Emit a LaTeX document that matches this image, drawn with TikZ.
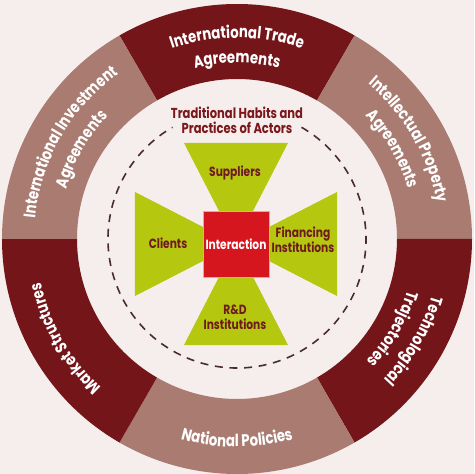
\documentclass[tikz,border=0pt]{standalone}
\usepackage{fontspec}
\usetikzlibrary{decorations.text}
\newfontfamily\diagfont{Poppins}[FakeStretch=0.8]
\newcommand\ringfont{\diagfont\bfseries\fontsize{12.5}{14}\selectfont}
\definecolor{bgpink}{HTML}{F5EEEC}
\definecolor{ringdark}{HTML}{731519}
\definecolor{ringlight}{HTML}{A97B71}
\definecolor{crossgreen}{HTML}{B6C70F}
\definecolor{corered}{HTML}{D5161E}
\definecolor{labeldark}{HTML}{6E1B1F}
\definecolor{dashgray}{HTML}{4A2C30}
\tikzset{
  ringtext/.style={decorate, decoration={text along path, text align=center, text color=white, text={#1}}},
  armlabel/.style={font=\diagfont\bfseries\fontsize{10}{11}\selectfont, text=labeldark, align=center},
  header/.style={font=\diagfont\bfseries\fontsize{10.8}{11.3}\selectfont, text=labeldark!90!red, align=center},
}

\begin{document}
\begin{tikzpicture}[x=0.75pt, y=0.75pt]
\useasboundingbox[fill=bgpink] (-237,-235) rectangle (237,239);

% ring segments
\foreach \a/\b/\c in {60/120/ringdark, 0/60/ringlight, -60/0/ringdark, 240/300/ringlight, 180/240/ringdark, 120/180/ringlight}
  \fill[\c] (\a:235) arc (\a:\b:235) -- (\b:160) arc (\b:\a:160) -- cycle;

% ring labels
\path[ringtext={|\ringfont|International Trade}] (118:201) arc (118:62:201);
\path[ringtext={|\ringfont|Agreements}] (118:176) arc (118:62:176);
\path[ringtext={|\ringfont|Intellectual Property}] (58:203) arc (58:2:203);
\path[ringtext={|\ringfont|Agreements}] (58:178) arc (58:2:178);
\path[ringtext={|\ringfont|Technological}] (-2:203) arc (-2:-58:203);
\path[ringtext={|\ringfont|Trajectories}] (-2:178) arc (-2:-58:178);
\path[ringtext={|\ringfont|National Policies}] (242:208) arc (242:298:208);
\path[ringtext={|\ringfont|Market Structures}] (238:201) arc (238:182:201);
\path[ringtext={|\ringfont|International Investment}] (178:203) arc (178:122:203);
\path[ringtext={|\ringfont|Agreements}] (178:178) arc (178:122:178);

% habits
\path[draw, dashgray, line width=1.2pt, dash pattern=on 6pt off 5pt] (60:129) arc (60:-240:129);
\node[header] (habits) at (0,119) {Traditional Habits and\\Practices of Actors};

% actors
\coordinate (c) at (-1,-5);
\fill[crossgreen] (c) -- ++(-52,101) -- ++(104,0) -- cycle;
\fill[crossgreen] (c) -- ++(-52,-101) -- ++(104,0) -- cycle;
\fill[crossgreen] (c) -- ++(-101,52) -- ++(0,-104) -- cycle;
\fill[crossgreen] (c) -- ++(101,52) -- ++(0,-104) -- cycle;
\node[fill=corered, draw=corered!40!white, line width=0.5pt, minimum size=49.5pt, inner sep=0pt,
  font=\diagfont\bfseries\fontsize{10}{11}\selectfont, text=white] (core) at (c) {Interaction};

\node[armlabel] (suppliers) at (-2,66) {Suppliers};
\node[armlabel] (clients) at (-69,-4) {Clients};
\node[armlabel] (financing) at (66,-1) {Financing\\Institutions};
\node[armlabel] (rnd) at (-2,-78) {R\&D\\Institutions};
\end{tikzpicture}
\end{document}
